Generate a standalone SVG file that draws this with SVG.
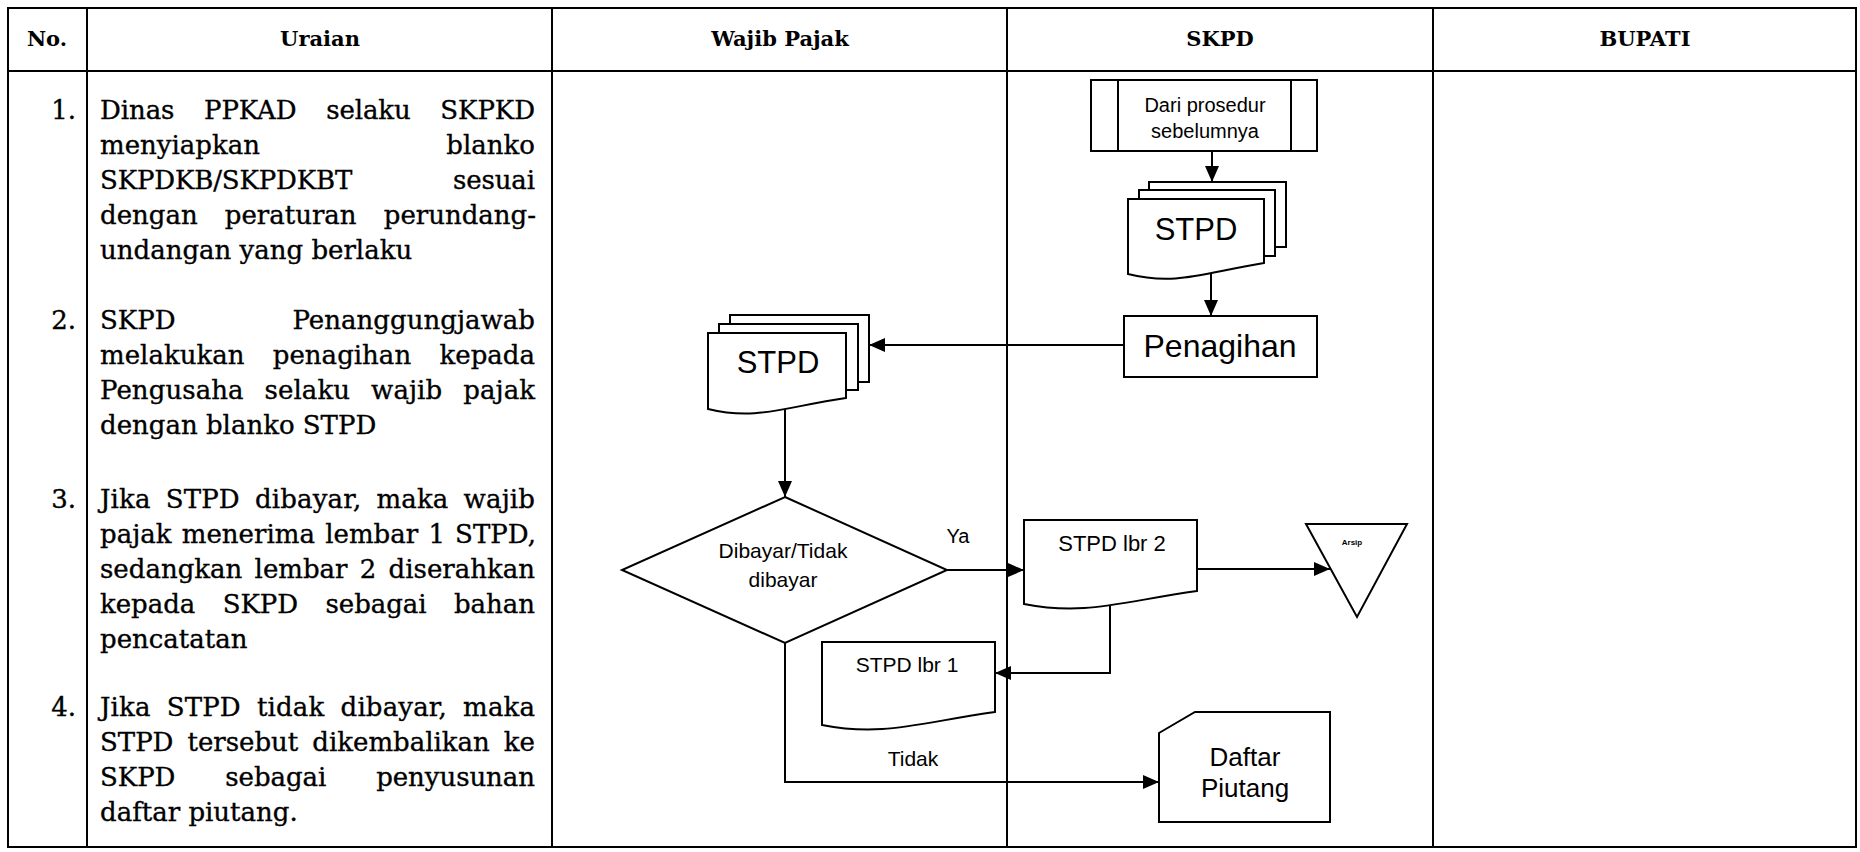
<svg xmlns="http://www.w3.org/2000/svg" width="1860" height="852" viewBox="0 0 1860 852">
<style>
.grid{stroke:#000;stroke-width:2;fill:none}
.hd{font-family:"DejaVu Serif",serif;font-weight:bold;font-size:21px;text-anchor:middle;fill:#000}
.ur{font-family:"DejaVu Serif",serif;font-size:26px;fill:#000;stroke:#000;stroke-width:0.35}
.num{font-family:"DejaVu Serif",serif;font-size:26px;text-anchor:end;fill:#000;stroke:#000;stroke-width:0.35}
.shape{fill:#fff;stroke:#000;stroke-width:2}
.fc{font-family:"Liberation Sans",Arial,sans-serif;fill:#000;text-anchor:middle}
.conn{fill:none;stroke:#000;stroke-width:2}
</style>
<defs>
<marker id="ah" markerWidth="16" markerHeight="14" refX="16" refY="7" orient="auto" markerUnits="userSpaceOnUse"><path d="M0,0 L16,7 L0,14 z" fill="#000"/></marker>
</defs>
<rect width="1860" height="852" fill="#fff"/>
<g id="table" class="grid">
<rect x="8" y="8" width="1848" height="839"/>
<line x1="8" y1="71" x2="1856" y2="71"/>
<line x1="87" y1="8" x2="87" y2="847"/>
<line x1="552" y1="8" x2="552" y2="847"/>
<line x1="1007" y1="8" x2="1007" y2="847"/>
<line x1="1433" y1="8" x2="1433" y2="847"/>
</g>
<g id="headers">
<text class="hd" x="47" y="46">No.</text>
<text class="hd" x="320" y="46">Uraian</text>
<text class="hd" x="780" y="46">Wajib Pajak</text>
<text class="hd" x="1220" y="46">SKPD</text>
<text class="hd" x="1645" y="46">BUPATI</text>
</g>
<g id="uraian">
<text class="num" x="76" y="119">1.</text>
<text class="num" x="76" y="329">2.</text>
<text class="num" x="76" y="508">3.</text>
<text class="num" x="76" y="716">4.</text>
<text class="ur" x="100" y="119" word-spacing="21.5" textLength="435" lengthAdjust="spacing">Dinas PPKAD selaku SKPKD</text>
<text class="ur" x="100" y="154" word-spacing="178" textLength="435" lengthAdjust="spacing">menyiapkan blanko</text>
<text class="ur" x="100" y="189" word-spacing="92.8" textLength="435" lengthAdjust="spacing">SKPDKB/SKPDKBT sesuai</text>
<text class="ur" x="100" y="224" word-spacing="18.9" textLength="436" lengthAdjust="spacing">dengan peraturan perundang-</text>
<text class="ur" x="100" y="259">undangan yang berlaku</text>
<text class="ur" x="100" y="329" word-spacing="108.4" textLength="435" lengthAdjust="spacing">SKPD Penanggungjawab</text>
<text class="ur" x="100" y="364" word-spacing="20.1" textLength="435" lengthAdjust="spacing">melakukan penagihan kepada</text>
<text class="ur" x="100" y="399" word-spacing="12.6" textLength="435" lengthAdjust="spacing">Pengusaha selaku wajib pajak</text>
<text class="ur" x="100" y="434">dengan blanko STPD</text>
<text class="ur" x="100" y="508" word-spacing="6.6" textLength="435" lengthAdjust="spacing">Jika STPD dibayar, maka wajib</text>
<text class="ur" x="100" y="543" word-spacing="1.8" textLength="436" lengthAdjust="spacing">pajak menerima lembar 1 STPD,</text>
<text class="ur" x="100" y="578" word-spacing="4" textLength="435" lengthAdjust="spacing">sedangkan lembar 2 diserahkan</text>
<text class="ur" x="100" y="613" word-spacing="19.2" textLength="435" lengthAdjust="spacing">kepada SKPD sebagai bahan</text>
<text class="ur" x="100" y="648">pencatatan</text>
<text class="ur" x="100" y="716" word-spacing="7.7" textLength="435" lengthAdjust="spacing">Jika STPD tidak dibayar, maka</text>
<text class="ur" x="100" y="751" word-spacing="5.8" textLength="435" lengthAdjust="spacing">STPD tersebut dikembalikan ke</text>
<text class="ur" x="100" y="786" word-spacing="41.7" textLength="435" lengthAdjust="spacing">SKPD sebagai penyusunan</text>
<text class="ur" x="100" y="821">daftar piutang.</text>
</g>
<g id="connectors" class="conn">
<path d="M1212,151 V182" marker-end="url(#ah)"/>
<path d="M1211,268 V316" marker-end="url(#ah)"/>
<path d="M1124,345 H869" marker-end="url(#ah)"/>
<path d="M785,404 V497" marker-end="url(#ah)"/>
<path d="M947,570 H1024" marker-end="url(#ah)"/>
<path d="M1197,569 H1330" marker-end="url(#ah)"/>
<path d="M1110,598 V673 H995" marker-end="url(#ah)"/>
<path d="M785,643 V782 H1159" marker-end="url(#ah)"/>
</g>
<g id="n-dari">
<rect class="shape" x="1091" y="80" width="226" height="71"/>
<line class="conn" x1="1118" y1="80" x2="1118" y2="151"/>
<line class="conn" x1="1291" y1="80" x2="1291" y2="151"/>
<text class="fc" x="1205" y="112" font-size="20">Dari prosedur</text>
<text class="fc" x="1205" y="138" font-size="20">sebelumnya</text>
</g>
<g id="n-stpd-skpd">
<rect class="shape" x="1149" y="182" width="137" height="65"/>
<rect class="shape" x="1139" y="190" width="136" height="66"/>
<path class="shape" d="M1128,199 H1264 V263 C1202.8,273 1175.6,286 1128,274 Z"/>
<text class="fc" x="1196" y="240" font-size="31">STPD</text>
</g>
<g id="n-penagihan">
<rect class="shape" x="1124" y="316" width="193" height="61"/>
<text class="fc" x="1220" y="357" font-size="32">Penagihan</text>
</g>
<g id="n-stpd-wp">
<rect class="shape" x="730" y="315" width="139" height="67"/>
<rect class="shape" x="719" y="324" width="139" height="66"/>
<path class="shape" d="M708,333 H846 V398 C783.9,407 756.3,421 708,409 Z"/>
<text class="fc" x="778" y="373" font-size="31">STPD</text>
</g>
<g id="n-decision">
<polygon class="shape" points="785,497 947,570 785,643 622,570"/>
<text class="fc" x="783" y="558" font-size="21">Dibayar/Tidak</text>
<text class="fc" x="783" y="587" font-size="21">dibayar</text>
</g>
<g id="n-stpd-lbr2">
<path class="shape" d="M1024,520 H1197 V591 C1119.2,602 1084.6,616 1024,604 Z"/>
<text class="fc" x="1112" y="551" font-size="22">STPD lbr 2</text>
</g>
<g id="n-stpd-lbr1">
<path class="shape" d="M822,642 H995 V712 C917.2,723 882.6,737 822,725 Z"/>
<text class="fc" x="907" y="672" font-size="21">STPD lbr 1</text>
</g>
<g id="n-arsip">
<polygon class="shape" points="1306,524 1407,524 1357,617"/>
<text class="fc" x="1352" y="545" font-size="8" font-weight="bold">Arsip</text>
</g>
<g id="n-daftar">
<path class="shape" d="M1159,733 L1195,712 H1330 V822 H1159 Z"/>
<text class="fc" x="1245" y="766" font-size="26">Daftar</text>
<text class="fc" x="1245" y="797" font-size="26">Piutang</text>
</g>
<g id="labels">
<text class="fc" x="958" y="543" font-size="20">Ya</text>
<text class="fc" x="913" y="766" font-size="21">Tidak</text>
</g>
</svg>
